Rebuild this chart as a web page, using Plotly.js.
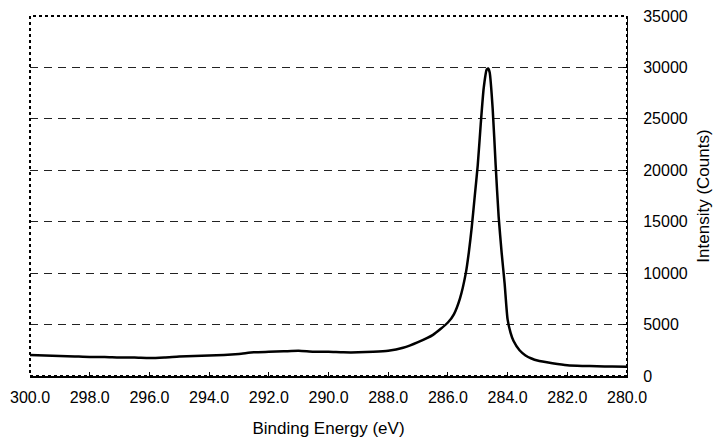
<!DOCTYPE html>
<html><head><meta charset="utf-8">
<script src="https://cdn.plot.ly/plotly-3.0.1.min.js"></script>
<style>html,body{margin:0;padding:0;background:#fff}#c{width:714px;height:439px}</style>
</head><body><div id="c"></div>
<script>
const bindingEnergy = [300.0,299.5,299.0,298.5,298.0,297.5,297.0,296.5,296.0,295.5,295.0,294.5,294.0,293.5,293.0,292.5,292.0,291.5,291.0,290.5,290.0,289.5,289.0,288.5,288.0,287.5,287.0,286.5,286.0,285.8,285.6,285.4,285.3,285.2,285.1,285.0,284.9,284.8,284.7,284.65,284.6,284.5,284.4,284.3,284.2,284.1,284.0,283.9,283.8,283.6,283.4,283.2,283.0,282.5,282.0,281.5,281.0,280.5,280.0];
const intensity = [2050,2000,1950,1900,1850,1850,1800,1800,1750,1800,1900,1950,2000,2050,2150,2300,2350,2400,2450,2350,2350,2300,2300,2350,2450,2750,3300,4000,5200,6000,7500,10000,12000,14500,17500,20500,24500,28000,29800,29900,29500,26000,20500,15500,12000,9000,5500,4200,3400,2500,2000,1700,1500,1250,1050,980,950,920,900];
const xTicks = [300,298,296,294,292,290,288,286,284,282,280];
const yTicks = [0,5000,10000,15000,20000,25000,30000,35000];

const fam = 'Liberation Sans, Arial, sans-serif';
const font = {family: fam, size: 16, color: '#000'};
Plotly.newPlot('c', [{
  x: bindingEnergy, y: intensity, type: 'scatter', mode: 'lines',
  line: {color: '#000', width: 2.5, shape: 'spline', smoothing: 0.6}, hoverinfo: 'skip'
}], {
  width: 714, height: 439,
  margin: {l: 30, r: 87, t: 16, b: 63},
  paper_bgcolor: '#fff', plot_bgcolor: '#fff',
  showlegend: false,
  font: font,
  xaxis: {
    range: [300, 280], tickvals: xTicks, ticktext: xTicks.map(v => v.toFixed(1)),
    ticks: 'inside', ticklen: 4, tickcolor: '#000', showgrid: false, zeroline: false,
    showline: true, linecolor: '#000', linewidth: 1.5,
    ticklabelstandoff: 6,
    tickfont: font,
    title: {text: 'Binding Energy (eV)', font: {family: fam, size: 17, color: '#000'}, standoff: 17}
  },
  yaxis: {
    side: 'right', range: [0, 35000], tickvals: yTicks, ticktext: yTicks.map(String),
    ticks: 'inside', ticklen: 4, tickcolor: '#000',
    showgrid: true, gridcolor: '#222', gridwidth: 1, griddash: '8px,6px',
    zeroline: false, showline: true, linecolor: '#000', linewidth: 1,
    ticklabelstandoff: 12,
    tickfont: font,
    title: {text: 'Intensity (Counts)', font: {family: fam, size: 17, color: '#000'}, standoff: 10}
  },
  shapes: [{type: 'rect', xref: 'paper', yref: 'paper', x0: 0, x1: 1, y0: 0, y1: 1,
    line: {color: '#000', width: 2, dash: 'dot'}}]
}, {displayModeBar: false, staticPlot: true});
</script></body></html>
